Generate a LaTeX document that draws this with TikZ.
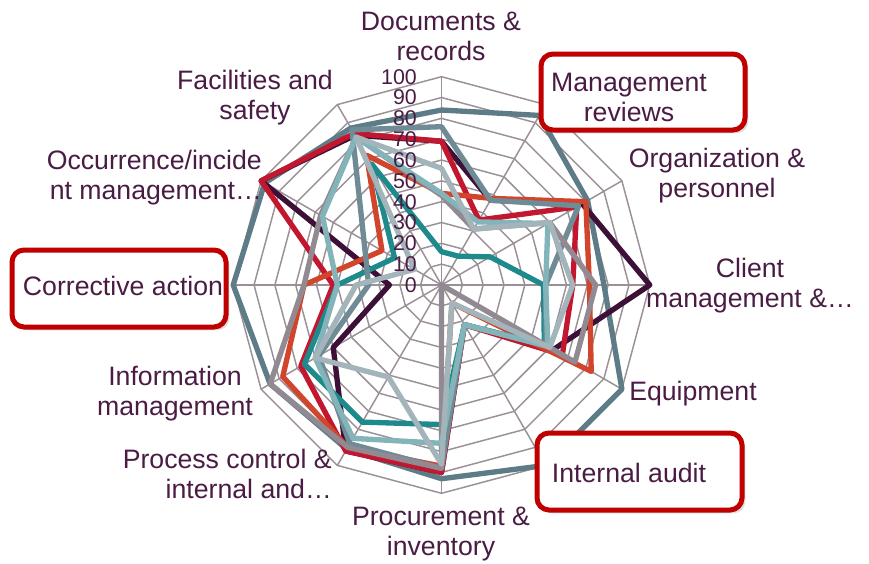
\documentclass[tikz,border=0pt]{standalone}
\usepackage{fontspec}
\setmainfont{Liberation Sans}
\usetikzlibrary{shadows}

\definecolor{txtc}{HTML}{4A1C44}
\definecolor{gridc}{HTML}{9A9096}
\definecolor{boxc}{HTML}{C00000}
\definecolor{slc}{HTML}{5E7C87}
\definecolor{dpc}{HTML}{3D1037}
\definecolor{rdc}{HTML}{C2172E}
\definecolor{ogc}{HTML}{D0452B}
\definecolor{tlc}{HTML}{1E8A8C}
\definecolor{sgc}{HTML}{6F8B95}
\definecolor{gmc}{HTML}{928A93}
\definecolor{ltc}{HTML}{82B4B9}
\definecolor{lgc}{HTML}{A3B4BA}

% one closed line of the radar: name, colour, twelve values
\newcommand{\radarline}[3]{%
  \foreach \v [count=\i from 0] in {#3}
    \coordinate (#1\i) at (90-30*\i:\v*2.083);
  \draw[serie,#2] (#10) \foreach \j in {1,...,11} {-- (#1\j)} -- cycle;
}

\begin{document}
\begin{tikzpicture}[x=0.75pt, y=0.75pt,
    grid/.style={draw=gridc, line width=1.1pt},
    serie/.style={line width=4pt, line join=round},
    lab/.style={text=txtc, font=\fontsize{20}{22.5}\selectfont, align=center, inner sep=0pt},
    num/.style={text=txtc, font=\fontsize{16}{16}\selectfont, anchor=east, inner sep=0pt},
    hilite/.style={draw=boxc, fill=white, line width=3.75pt, rounded corners=9pt,
                   drop shadow={opacity=0.25, shadow xshift=2.5pt, shadow yshift=-2.5pt}}]

\useasboundingbox (0,0) rectangle (869,-564);

\begin{scope}[shift={(441.5,-285)}]
% web
\foreach \r in {1,...,10}
  \draw[grid] (90:\r*20.83) \foreach \a in {60,30,...,-240} {-- (\a:\r*20.83)} -- cycle;
\foreach \a in {90,60,...,-240}
  \draw[grid] (0,0) -- (\a:208.3);

% series
\radarline{sl}{slc}{84,94,81,78,100,100,93,91,95,100,98,87}
\radarline{dp}{dpc}{69,47,78,100,62,22,90,92,60,25,100,83}
\radarline{rd}{rdc}{69,36,75,63,67,22,90,92,78,52,100,84}
\radarline{og}{ogc}{44,48,80,71,83,10,87,90,88,66,33,72}
\radarline{tl}{tlc}{16,16,27,49,57,22,67,76,76,50,26,67}
\radarline{sg}{sgc}{76,47,76,50,58,22,88,88,68,35,43,86}
\radarline{gm}{gmc}{43,31,60,74,74,0,88,90,95,66,67,82}
\radarline{lt}{ltc}{44,35,59,50,59,22,76,85,70,50,66,82}
\radarline{lg}{lgc}{56,31,60,63,60,10,86,51,70,41,15,82}

% scale
\foreach \n in {0,10,...,100}
  \node[num] (t\n) at (-24.5,{\n*2.083}) {\n};
\end{scope}

% highlight boxes
\node[hilite, minimum width=153pt, minimum height=57pt] (mgmtbox) at (643,-92) {};
\node[hilite, minimum width=160.5pt, minimum height=57.75pt] (corrbox) at (119,-288.5) {};
\node[hilite, minimum width=153.75pt, minimum height=57.75pt] (auditbox) at (639.5,-471.5) {};

% axis labels
\node[lab] (docs) at (441,-36) {Documents \&\\records};
\node[lab] (mgmt) at (629,-97.5) {Management\\reviews};
\node[lab] (org) at (717,-176) {Organization \&\\personnel};
\node[lab] (client) at (750,-286) {Client\\management \&…};
\node[lab] (equip) at (693,-394) {Equipment};
\node[lab] (audit) at (629,-473) {Internal audit};
\node[lab] (procure) at (441,-534) {Procurement \&\\inventory};
\node[lab, align=right, anchor=east] (process) at (332,-474) {Process control \&\\internal and…};
\node[lab] (info) at (175,-394) {Information\\management};
\node[lab] (corr) at (123,-286) {Corrective action};
\node[lab, align=right, anchor=east] (occur) at (262,-178) {Occurrence/incide\\nt management…};
\node[lab] (facil) at (255,-97.5) {Facilities and\\safety};

\end{tikzpicture}
\end{document}
